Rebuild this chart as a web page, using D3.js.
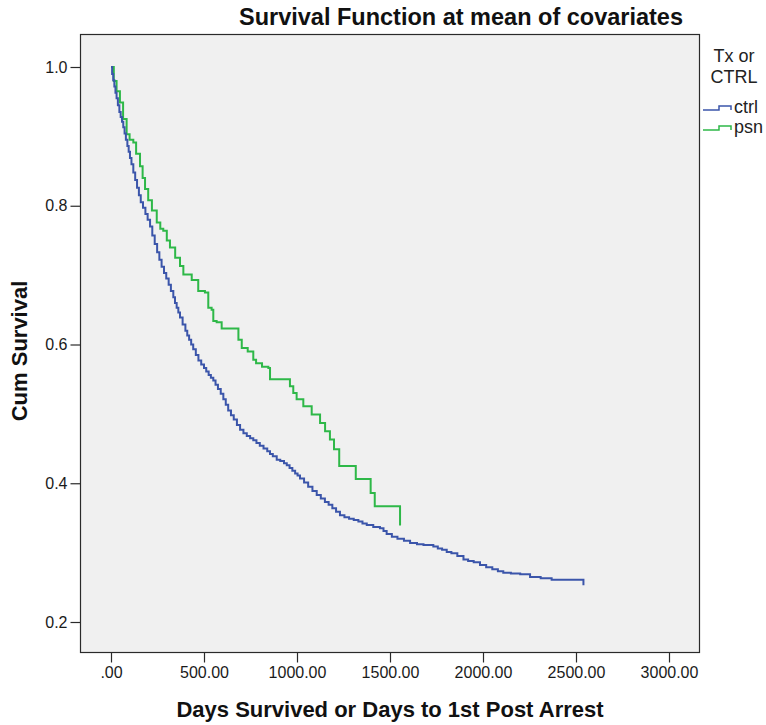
<!DOCTYPE html>
<html>
<head>
<meta charset="utf-8">
<script src="https://cdn.jsdelivr.net/npm/d3@7"></script>
<style>
  body { margin: 0; background: #fff; }
  text { font-family: "Liberation Sans", Arial, sans-serif; }
</style>
</head>
<body>
<div id="chart"></div>
<script>
// survival estimates (day of event, cum survival after it)
const ctrlDays = [0, 6, 12, 18, 24, 30, 37, 45, 52, 59, 66, 73, 80, 88, 95, 102, 110, 120, 130, 140, 150, 160,
  172, 185, 197, 210, 222, 235, 248, 260, 272, 285, 297, 310, 322, 335, 344, 353, 362, 371, 385, 400, 410,
  420, 431, 442, 456, 470, 485, 500, 512, 525, 537, 550, 562, 575, 590, 604, 617, 630, 645, 660, 677, 694,
  712, 730, 748, 765, 782, 800, 820, 840, 855, 870, 891, 910, 930, 945, 960, 975, 990, 1003, 1016, 1038,
  1060, 1083, 1106, 1128, 1150, 1170, 1190, 1210, 1231, 1255, 1280, 1305, 1330, 1352, 1375, 1410, 1446,
  1465, 1482, 1510, 1540, 1575, 1608, 1645, 1680, 1733, 1757, 1780, 1805, 1830, 1862, 1895, 1920, 1950,
  1984, 2017, 2050, 2080, 2109, 2150, 2200, 2253, 2310, 2369, 2540];
const ctrlSurv = [1.000, 0.990, 0.981, 0.972, 0.963, 0.955, 0.945, 0.935, 0.928, 0.921, 0.913, 0.904, 0.895,
  0.886, 0.878, 0.869, 0.860, 0.848, 0.837, 0.826, 0.815, 0.805, 0.797, 0.788, 0.780, 0.770, 0.757, 0.745,
  0.733, 0.722, 0.712, 0.703, 0.695, 0.686, 0.677, 0.668, 0.660, 0.653, 0.646, 0.639, 0.629, 0.620, 0.613,
  0.607, 0.600, 0.593, 0.585, 0.577, 0.571, 0.566, 0.561, 0.556, 0.552, 0.548, 0.542, 0.536, 0.529, 0.521,
  0.513, 0.505, 0.498, 0.492, 0.484, 0.477, 0.472, 0.468, 0.465, 0.462, 0.458, 0.454, 0.450, 0.446, 0.442,
  0.439, 0.434, 0.432, 0.429, 0.426, 0.422, 0.418, 0.414, 0.411, 0.407, 0.401, 0.395, 0.389, 0.383, 0.378,
  0.373, 0.369, 0.364, 0.359, 0.354, 0.351, 0.349, 0.347, 0.345, 0.342, 0.340, 0.337, 0.335, 0.331, 0.327,
  0.323, 0.320, 0.317, 0.314, 0.312, 0.311, 0.309, 0.306, 0.304, 0.301, 0.299, 0.295, 0.290, 0.288, 0.286,
  0.282, 0.279, 0.276, 0.273, 0.271, 0.270, 0.269, 0.265, 0.263, 0.261, 0.253];

const psnDays = [0, 15, 30, 48, 65, 84, 100, 120, 135, 156, 170, 183, 200, 220, 246, 265, 281, 300, 317, 345,
  371, 389, 434, 469, 505, 523, 541, 550, 568, 595, 685, 703, 735, 765, 780, 812, 846, 855, 962, 980, 998,
  1034, 1079, 1124, 1151, 1177, 1199, 1227, 1316, 1396, 1418, 1554];
const psnSurv = [1.000, 0.980, 0.965, 0.949, 0.925, 0.903, 0.895, 0.891, 0.875, 0.857, 0.840, 0.824, 0.808, 0.793,
  0.776, 0.767, 0.764, 0.750, 0.740, 0.725, 0.713, 0.701, 0.693, 0.677, 0.675, 0.653, 0.650, 0.634, 0.632,
  0.623, 0.607, 0.595, 0.590, 0.578, 0.573, 0.568, 0.566, 0.550, 0.540, 0.530, 0.521, 0.511, 0.499, 0.487,
  0.475, 0.463, 0.449, 0.425, 0.406, 0.386, 0.367, 0.339];

const seriesNames = ["ctrl", "psn"];
const seriesColors = ["#3b55aa", "#2eb848"];
const xTicks = [0, 500, 1000, 1500, 2000, 2500, 3000];
const yTicks = [0.2, 0.4, 0.6, 0.8, 1.0];

const W = 766, H = 725;
const plot = { left: 80, top: 34, right: 699, bottom: 652 };
const pw = plot.right - plot.left, ph = plot.bottom - plot.top;

const svg = d3.select("#chart").append("svg")
    .attr("width", W)
    .attr("height", H);

const g = svg.append("g")
    .attr("transform", "translate(" + plot.left + "," + plot.top + ")");

const x = d3.scaleLinear().domain([0, 3000]).range([31, 589]);
const y = d3.scaleLinear().domain([0.2, 1.0]).range([588, 33]);

g.append("rect")
    .attr("x", 0.5).attr("y", 0.5)
    .attr("width", pw).attr("height", ph)
    .attr("fill", "#f0f0f0");

const series = [
  ctrlDays.map((d, i) => [d, ctrlSurv[i]]),
  psnDays.map((d, i) => [d, psnSurv[i]])
];

const line = d3.line()
    .x(d => x(d[0]))
    .y(d => y(d[1]))
    .curve(d3.curveStepAfter);

// psn first so ctrl sits on top where they overlap
[1, 0].forEach(i => {
  g.append("path")
      .datum(series[i])
      .attr("fill", "none")
      .attr("stroke", seriesColors[i])
      .attr("stroke-width", 2)
      .attr("d", line);
});

g.append("rect")
    .attr("x", 0.5).attr("y", 0.5)
    .attr("width", pw).attr("height", ph)
    .attr("fill", "none")
    .attr("stroke", "#2a2a2a")
    .attr("stroke-width", 1.2);

const xAxis = g.append("g")
    .attr("transform", "translate(0," + (ph + 0.5) + ")")
    .call(d3.axisBottom(x).tickValues(xTicks).tickSize(10).tickPadding(4)
      .tickFormat(d => d === 0 ? ".00" : d3.format(".2f")(d)));

const yAxis = g.append("g")
    .attr("transform", "translate(0.5,0)")
    .call(d3.axisLeft(y).tickValues(yTicks).tickSize(10).tickPadding(3)
      .tickFormat(d3.format(".1f")));

[xAxis, yAxis].forEach(a => {
  a.select(".domain").remove();
  a.selectAll(".tick line").attr("stroke", "#2a2a2a").attr("stroke-width", 1.2);
  a.selectAll(".tick text")
      .attr("fill", "#1a1a1a")
      .style("font-size", "16px")
      .style("font-family", "'Liberation Sans', Arial, sans-serif");
});

// title
svg.append("text")
    .attr("x", 461)
    .attr("y", 25)
    .attr("text-anchor", "middle")
    .style("font-size", "23.5px")
    .style("font-weight", "bold")
    .attr("fill", "#111")
    .text("Survival Function at mean of covariates");

// x axis label
svg.append("text")
    .attr("x", 390)
    .attr("y", 717)
    .attr("text-anchor", "middle")
    .style("font-size", "22px")
    .style("font-weight", "bold")
    .attr("fill", "#111")
    .text("Days Survived or Days to 1st Post Arrest");

// y axis label
svg.append("text")
    .attr("transform", "translate(27,351) rotate(-90)")
    .attr("text-anchor", "middle")
    .style("font-size", "22px")
    .style("font-weight", "bold")
    .attr("fill", "#111")
    .text("Cum Survival");

// legend
const legend = svg.append("g");
legend.append("text")
    .attr("x", 734).attr("y", 62)
    .attr("text-anchor", "middle")
    .style("font-size", "18px")
    .attr("fill", "#222")
    .text("Tx or");
legend.append("text")
    .attr("x", 734).attr("y", 83)
    .attr("text-anchor", "middle")
    .style("font-size", "18px")
    .attr("fill", "#222")
    .text("CTRL");

seriesNames.forEach((name, i) => {
  const yy = 110 + i * 20;
  legend.append("path")
      .attr("d", "M703," + yy + "H719V" + (yy - 4) + "H731V" + yy)
      .attr("fill", "none")
      .attr("stroke", seriesColors[i])
      .attr("stroke-width", 1.5);
  legend.append("text")
      .attr("x", 734).attr("y", yy + 3)
      .style("font-size", "18px")
      .attr("fill", "#222")
      .text(name);
});
</script>
</body>
</html>
